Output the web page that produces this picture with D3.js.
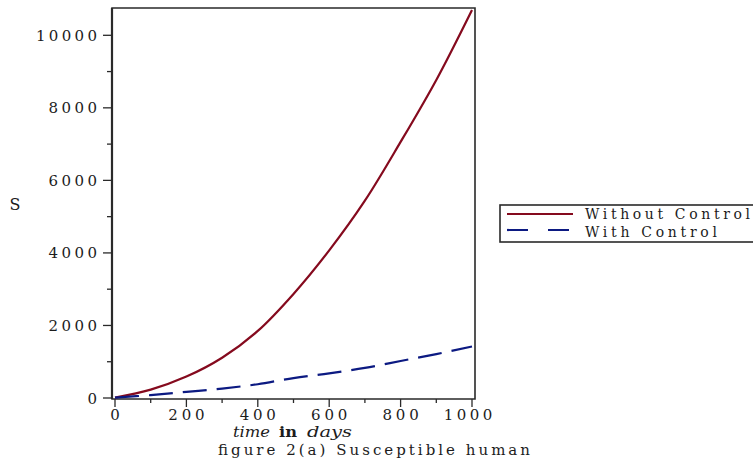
<!DOCTYPE html>
<html>
<head>
<meta charset="utf-8">
<script src="https://cdn.jsdelivr.net/npm/d3@7"></script>
<style>
  html, body { margin: 0; padding: 0; background: #fff; }
  svg { display: block; font-family: "DejaVu Serif", "Liberation Serif", serif; }
</style>
</head>
<body>
<svg id="chart" width="753" height="460"></svg>
<script>
// ---- data ----
const days = [0, 100, 200, 300, 400, 500, 600, 700, 800, 900, 1000];
const withoutControl = [10, 230, 590, 1110, 1850, 2870, 4070, 5440, 7060, 8770, 10700];
const withControl = [10, 80, 170, 260, 380, 550, 680, 830, 1020, 1210, 1420];
const xMajorTicks = [0, 200, 400, 600, 800, 1000];
const xMinorTicks = [100, 300, 500, 700, 900];
const yMajorTicks = [0, 2000, 4000, 6000, 8000, 10000];
const yMinorTicks = [1000, 3000, 5000, 7000, 9000];
const seriesNames = ["Without Control", "With Control"];
const seriesColors = ["#850a1e", "#0c1a82"];

// ---- layout ----
const svg = d3.select("#chart");
const x = d3.scaleLinear().domain([0, 1000]).range([115, 472]);
const y = d3.scaleLinear().domain([0, 10000]).range([398, 35.3]);
const frame = { left: 112, right: 475, top: 8, bottom: 399 };
const txt = "#1c1c1c";

// frame
svg.append("path")
  .attr("d", `M${frame.left},${frame.bottom} L${frame.left},${frame.top} L${frame.right},${frame.top} L${frame.right},${frame.bottom} Z`)
  .attr("fill", "none").attr("stroke", "#2a2a2a").attr("stroke-width", 1.6);
svg.append("line").attr("x1", frame.left).attr("x2", frame.left)
  .attr("y1", frame.top).attr("y2", frame.bottom)
  .attr("stroke", "#2a2a2a").attr("stroke-width", 2.2);

const digitsLen = d => String(d).length === 1 ? 10 : String(d).length * 12.4 - 1;

// y axis ticks
const gy = svg.append("g");
gy.selectAll("line.maj").data(yMajorTicks).join("line")
  .attr("x1", frame.left - 9).attr("x2", frame.left)
  .attr("y1", d => y(d)).attr("y2", d => y(d))
  .attr("stroke", "#2a2a2a").attr("stroke-width", 1.3);
gy.selectAll("line.min").data(yMinorTicks).join("line")
  .attr("x1", frame.left - 5).attr("x2", frame.left)
  .attr("y1", d => y(d)).attr("y2", d => y(d))
  .attr("stroke", "#2a2a2a").attr("stroke-width", 1.3);
gy.selectAll("text").data(yMajorTicks).join("text")
  .attr("x", 97).attr("y", d => y(d) + 5.5)
  .attr("text-anchor", "end")
  .attr("font-size", 15).attr("fill", txt)
  .attr("textLength", digitsLen)
  .attr("lengthAdjust", "spacing")
  .text(d => d);

// x axis ticks
const gx = svg.append("g");
gx.selectAll("line.maj").data(xMajorTicks).join("line")
  .attr("x1", d => x(d)).attr("x2", d => x(d))
  .attr("y1", frame.bottom).attr("y2", frame.bottom + 8)
  .attr("stroke", "#2a2a2a").attr("stroke-width", 1.3);
gx.selectAll("line.min").data(xMinorTicks).join("line")
  .attr("x1", d => x(d)).attr("x2", d => x(d))
  .attr("y1", frame.bottom).attr("y2", frame.bottom + 4)
  .attr("stroke", "#2a2a2a").attr("stroke-width", 1.3);
gx.selectAll("text").data(xMajorTicks).join("text")
  .attr("x", d => x(d) - (d === 1000 ? 4 : 0)).attr("y", 420)
  .attr("text-anchor", "middle")
  .attr("font-size", 15).attr("fill", txt)
  .attr("textLength", digitsLen)
  .attr("lengthAdjust", "spacing")
  .text(d => d);

// axis labels
svg.append("text").attr("x", 15).attr("y", 210).attr("text-anchor", "middle")
  .attr("font-size", 16).attr("fill", txt).text("S");

const xl = svg.append("text").attr("y", 437).attr("font-size", 14).attr("fill", txt);
xl.append("tspan").attr("x", 233).attr("font-style", "italic")
  .attr("textLength", 37).attr("lengthAdjust", "spacingAndGlyphs").text("time");
xl.append("tspan").attr("x", 279).attr("font-weight", "bold")
  .attr("textLength", 18).attr("lengthAdjust", "spacingAndGlyphs").text("in");
xl.append("tspan").attr("x", 307).attr("font-style", "italic")
  .attr("textLength", 45).attr("lengthAdjust", "spacingAndGlyphs").text("days");

svg.append("text").attr("x", 218).attr("y", 455)
  .attr("font-size", 15).attr("fill", txt)
  .attr("textLength", 312).attr("lengthAdjust", "spacing")
  .text("figure 2(a) Susceptible human");

// lines
const line = d3.line().x((d, i) => x(days[i])).y(d => y(d)).curve(d3.curveCatmullRom.alpha(0.5));
svg.append("path").datum(withoutControl)
  .attr("d", line).attr("fill", "none")
  .attr("stroke", seriesColors[0]).attr("stroke-width", 2.2);
svg.append("path").datum(withControl)
  .attr("d", line).attr("fill", "none")
  .attr("stroke", seriesColors[1]).attr("stroke-width", 2.2)
  .attr("stroke-dasharray", "24,10");

// legend
const lg = svg.append("g");
lg.append("rect").attr("x", 500).attr("y", 205).attr("width", 260).attr("height", 37)
  .attr("fill", "#fff").attr("stroke", "#2a2a2a").attr("stroke-width", 1.6);
const legendY = [214, 230];
const legendBase = [219, 236.5];
const legendLen = [165, 132];
seriesNames.forEach((name, i) => {
  lg.append("line").attr("x1", 507).attr("x2", 573)
    .attr("y1", legendY[i]).attr("y2", legendY[i])
    .attr("stroke", seriesColors[i]).attr("stroke-width", 2.2)
    .attr("stroke-dasharray", i === 1 ? "21,20" : null);
  lg.append("text").attr("x", 585).attr("y", legendBase[i])
    .attr("font-size", 14).attr("fill", txt)
    .attr("textLength", legendLen[i]).attr("lengthAdjust", "spacing")
    .text(name);
});
</script>
</body>
</html>
